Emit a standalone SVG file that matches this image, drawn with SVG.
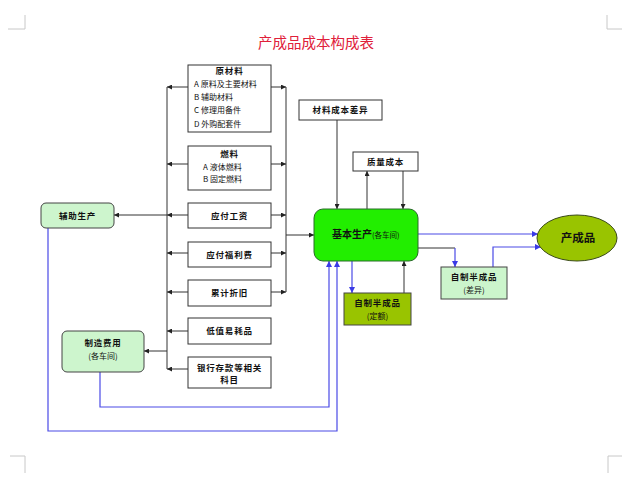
<svg xmlns="http://www.w3.org/2000/svg" width="640" height="489" viewBox="0 0 640 489">
<style>
.bx{fill:#ffffff;stroke:#333333;stroke-width:1}
.t{font-family:"Noto Sans CJK SC","Noto Sans",sans-serif;font-size:8px;fill:#111111}
.tb{font-family:"Noto Sans CJK SC","Noto Sans",sans-serif;font-size:8.5px;font-weight:bold;fill:#111111;text-anchor:middle;letter-spacing:0.8px}
.ln{fill:none;stroke:#333333;stroke-width:1}
.bl{fill:none;stroke:#4a4ae6;stroke-width:1.2}
.cm{fill:none;stroke:#c8c8c8;stroke-width:1}
</style>
<defs>
<marker id="ak" viewBox="0 0 6 6" refX="6" refY="3" markerWidth="5" markerHeight="5" markerUnits="userSpaceOnUse" orient="auto"><path d="M0,0 L6,3 L0,6 z" fill="#222222"/></marker>
<marker id="ab" viewBox="0 0 6 6" refX="6" refY="3" markerWidth="6" markerHeight="6" markerUnits="userSpaceOnUse" orient="auto"><path d="M0,0 L6,3 L0,6 z" fill="#3a3ae6"/></marker>
</defs>
<rect x="0" y="0" width="640" height="489" fill="#ffffff"/>
<g id="corners">
<path class="cm" d="M8,29 H25 V15"/>
<path class="cm" d="M622,29 H607 V15"/>
<path class="cm" d="M10,456 H25 V473"/>
<path class="cm" d="M622,456 H608 V473"/>
</g>
<text id="title" x="316" y="48" text-anchor="middle" font-family="Noto Sans CJK SC, sans-serif" font-size="14.5" fill="#e0203a">产成品成本构成表</text>
<g id="connectors">
<line class="ln" x1="271" y1="87" x2="286" y2="87" marker-end="url(#ak)"/>
<line class="ln" x1="271" y1="164" x2="286" y2="164" marker-end="url(#ak)"/>
<line class="ln" x1="271" y1="215" x2="286" y2="215" marker-end="url(#ak)"/>
<line class="ln" x1="271" y1="253" x2="286" y2="253" marker-end="url(#ak)"/>
<line class="ln" x1="271" y1="292" x2="286" y2="292" marker-end="url(#ak)"/>
<line class="ln" x1="286" y1="87" x2="286" y2="292"/>
<line class="ln" x1="286" y1="235" x2="314" y2="235" marker-end="url(#ak)"/>
<line class="ln" x1="188" y1="87" x2="167" y2="87" marker-end="url(#ak)"/>
<line class="ln" x1="188" y1="164" x2="167" y2="164" marker-end="url(#ak)"/>
<line class="ln" x1="188" y1="215" x2="167" y2="215" marker-end="url(#ak)"/>
<line class="ln" x1="188" y1="253" x2="167" y2="253" marker-end="url(#ak)"/>
<line class="ln" x1="188" y1="292" x2="167" y2="292" marker-end="url(#ak)"/>
<line class="ln" x1="188" y1="331" x2="167" y2="331" marker-end="url(#ak)"/>
<line class="ln" x1="188" y1="369" x2="167" y2="369" marker-end="url(#ak)"/>
<line class="ln" x1="167" y1="87" x2="167" y2="369"/>
<line class="ln" x1="167" y1="215" x2="114" y2="215" marker-end="url(#ak)"/>
<line class="ln" x1="167" y1="351" x2="144" y2="351" marker-end="url(#ak)"/>
<path class="bl" d="M48,228 V431 H337 V261" marker-end="url(#ab)"/>
<path class="bl" d="M100,372 V407 H329 V261" marker-end="url(#ab)"/>
<line class="ln" x1="337" y1="120" x2="337" y2="209" marker-end="url(#ak)"/>
<line class="ln" x1="367" y1="209" x2="367" y2="171" marker-end="url(#ak)"/>
<line class="ln" x1="403" y1="171" x2="403" y2="209" marker-end="url(#ak)"/>
<line class="bl" x1="352" y1="261" x2="352" y2="293" marker-end="url(#ab)"/>
<line class="ln" x1="404" y1="293" x2="404" y2="261" marker-end="url(#ak)"/>
<line class="bl" x1="418" y1="234" x2="538" y2="234" marker-end="url(#ab)"/>
<path class="ln" d="M418,248 H455"/>
<line class="bl" x1="455" y1="248" x2="455" y2="267" marker-end="url(#ab)"/>
<path class="bl" d="M493,267 V247 H541" marker-end="url(#ab)"/>
</g>
<g id="n-yuancailiao">
<rect class="bx" x="188" y="65" width="83" height="67"/>
<text class="tb" x="229.5" y="74">原材料</text>
<text class="t" x="194" y="87">A 原料及主要材料</text>
<text class="t" x="194" y="100">B 辅助材料</text>
<text class="t" x="194" y="113">C 修理用备件</text>
<text class="t" x="194" y="127">D 外购配套件</text>
</g>
<g id="n-ranliao">
<rect class="bx" x="188" y="146" width="83" height="44"/>
<text class="tb" x="229.5" y="157">燃料</text>
<text class="t" x="203" y="170">A 液体燃料</text>
<text class="t" x="203" y="182">B 固定燃料</text>
</g>
<g id="n-gongzi">
<rect class="bx" x="188" y="203" width="83" height="25"/>
<text class="tb" x="229.5" y="218.5">应付工资</text>
</g>
<g id="n-fuli">
<rect class="bx" x="188" y="242" width="83" height="25"/>
<text class="tb" x="229.5" y="257.5">应付福利费</text>
</g>
<g id="n-zhejiu">
<rect class="bx" x="188" y="280" width="83" height="26"/>
<text class="tb" x="229.5" y="296">累计折旧</text>
</g>
<g id="n-dizhi">
<rect class="bx" x="188" y="318" width="83" height="26"/>
<text class="tb" x="229.5" y="334">低值易耗品</text>
</g>
<g id="n-yinhang">
<rect class="bx" x="188" y="357" width="83" height="31"/>
<text class="tb" x="229.5" y="371">银行存款等相关</text>
<text class="tb" x="229.5" y="383">科目</text>
</g>
<g id="n-fuzhu">
<rect x="41" y="203" width="73" height="25" rx="5" fill="#cdf5cd" stroke="#444444"/>
<text class="tb" x="77.5" y="218.5">辅助生产</text>
</g>
<g id="n-zhizao">
<rect x="62" y="331" width="82" height="41" rx="5" fill="#cdf5cd" stroke="#444444"/>
<text class="tb" x="103" y="346">制造费用</text>
<text class="t" x="103" y="359" text-anchor="middle" font-size="7.5">(各车间)</text>
</g>
<g id="n-chayi">
<rect class="bx" x="299" y="100" width="83" height="20"/>
<text class="tb" x="340.5" y="113">材料成本差异</text>
</g>
<g id="n-zhiliang">
<rect class="bx" x="353" y="152" width="65" height="19"/>
<text class="tb" x="385.5" y="164.5">质量成本</text>
</g>
<g id="n-jiben">
<rect x="314" y="209" width="104" height="52" rx="9" fill="#22ee00" stroke="#2a6a2a"/>
<text x="332" y="238" font-family="Noto Sans CJK SC, sans-serif" fill="#111111"><tspan font-size="10" font-weight="bold">基本生产</tspan><tspan font-size="7.5">(各车间)</tspan></text>
</g>
<g id="n-dinge">
<rect x="344" y="293" width="67" height="32" fill="#99c400" stroke="#444444"/>
<text class="tb" x="377.5" y="306">自制半成品</text>
<text class="t" x="377.5" y="319" text-anchor="middle">(定额)</text>
</g>
<g id="n-chayi2">
<rect x="441" y="267" width="66" height="32" fill="#ccf5cc" stroke="#444444"/>
<text class="tb" x="474" y="280">自制半成品</text>
<text class="t" x="474" y="293" text-anchor="middle">(差异)</text>
</g>
<g id="n-chanchengpin">
<ellipse cx="577" cy="238" rx="40" ry="23" fill="#99c400" stroke="#3a4a1a"/>
<text x="578" y="242" text-anchor="middle" font-family="Noto Sans CJK SC, sans-serif" font-size="11.5" font-weight="bold" fill="#111111">产成品</text>
</g>
</svg>
